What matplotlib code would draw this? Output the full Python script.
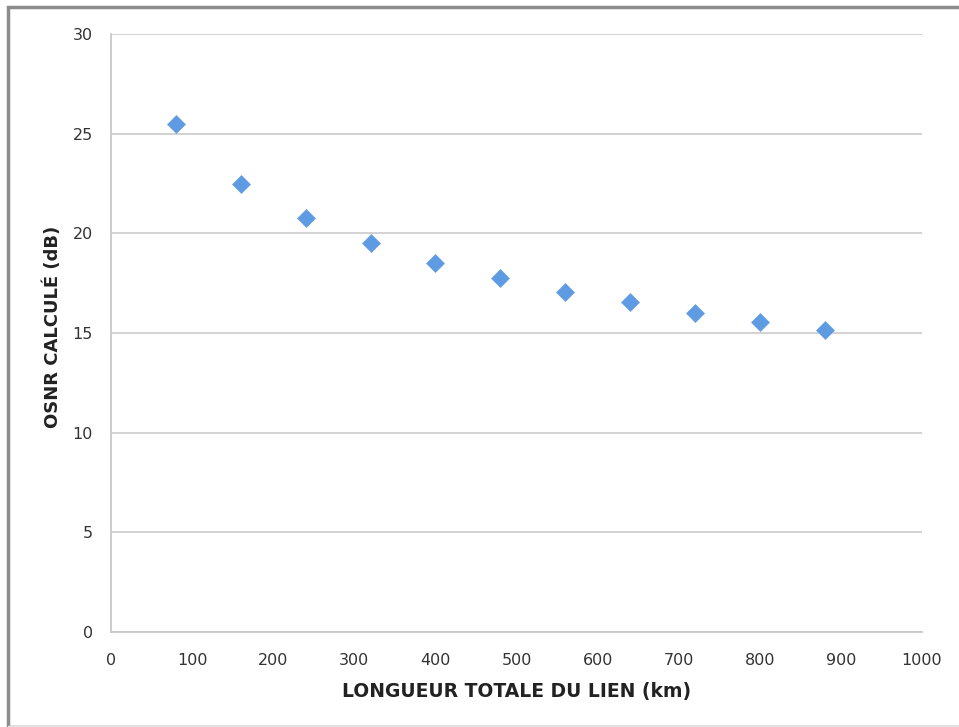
import matplotlib.pyplot as plt
from matplotlib.patches import Rectangle
import numpy as np

longueur = [80, 160, 240, 320, 400, 480, 560, 640, 720, 800, 880]
osnr = [25.5, 22.5, 20.75, 19.5, 18.5, 17.75, 17.05, 16.55, 16.0, 15.55, 15.15]
xticks = [0, 100, 200, 300, 400, 500, 600, 700, 800, 900, 1000]
yticks = [0, 5, 10, 15, 20, 25, 30]

plt.rcParams['font.family'] = ['DejaVu Sans']

fig = plt.figure(figsize=(9.59, 7.27), dpi=100)
ax = fig.add_axes([111/959, 95/727, 811/959, 598/727])

ax.plot(longueur, osnr, linestyle='none', marker='D', markersize=9.3,
        color='#5e9be2', markeredgecolor='#6aa2e3', markeredgewidth=0.5, zorder=3)

ax.set_xlim(0, 1000)
ax.set_ylim(0, 30)
ax.set_xticks(xticks)
ax.set_yticks(yticks)
ax.tick_params(length=0, labelsize=11.5, labelcolor='#333333')
ax.tick_params(axis='x', pad=15)
ax.tick_params(axis='y', pad=13)
ax.grid(axis='y', color='#cfcfcf', linewidth=1.3)
ax.set_axisbelow(True)
for s in ['top', 'right']:
    ax.spines[s].set_visible(False)
for s in ['left', 'bottom']:
    ax.spines[s].set_color('#c8c8c8')
    ax.spines[s].set_linewidth(1.3)

ax.set_xlabel('LONGUEUR TOTALE DU LIEN (km)', fontsize=13.5, fontweight='bold',
              color='#222222', labelpad=10)
ax.set_ylabel('OSNR CALCULÉ (dB)', fontsize=13, fontweight='bold',
              color='#222222')
ax.yaxis.set_label_coords(-0.061, 0.51)

# cadre gris autour de l'image
fig.patches.append(Rectangle((8/959, 0), 960/959, 720/727, transform=fig.transFigure,
                             fill=False, edgecolor='#8c8c8c', linewidth=2.5))
fig.patches.append(Rectangle((8/959, 1/727), 960/959, 0, transform=fig.transFigure,
                             fill=False, edgecolor='#e0e0e0', linewidth=1))

fig.savefig('out.png', dpi=100)
